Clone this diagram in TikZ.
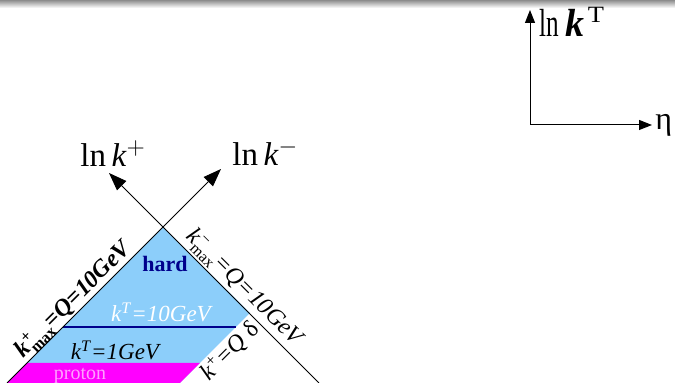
\documentclass[tikz,border=0pt]{standalone}
\usepackage{fontspec}
\setmainfont{Liberation Serif}
\usepackage{amsmath}
\usepackage{graphicx}
\usetikzlibrary{arrows.meta}
\definecolor{hardblue}{RGB}{140,206,250}
\definecolor{hardtext}{RGB}{0,0,140}
\definecolor{protonfill}{RGB}{255,0,255}
\definecolor{protontext}{RGB}{255,160,255}

\begin{document}
\begin{tikzpicture}[x=0.5pt,y=0.5pt,every node/.style={inner sep=0pt},
    bigaxis/.style={line width=0.5pt,-{Triangle[length=9pt,width=6.5pt]}},
    smallaxis/.style={line width=0.5pt,-{Triangle[length=6.5pt,width=5pt]}},
    axislabel/.style={anchor=base west,font=\fontsize{16.5}{19}\selectfont},
    linelabel/.style={anchor=base,font=\fontsize{12}{14}\selectfont\itshape},
    boldlinelabel/.style={anchor=base,font=\fontsize{12}{14}\selectfont\bfseries\itshape},
    regionlabel/.style={anchor=base,font=\fontsize{11.5}{14}\selectfont\itshape}]
			\useasboundingbox (0,0) rectangle (675,383);
			\shade[top color=black!45,bottom color=white] (0,375) rectangle (675,383); % top band
			\coordinate (apex) at (163,156); % crossing point
			\coordinate (leftfoot) at (7,0); % foot of ln k- axis
			\coordinate (rightfoot) at (319,0); % foot of ln k+ axis
			\coordinate (kminustip) at (221,214); % tip of ln k- axis
			\coordinate (kplustip) at (109,210); % tip of ln k+ axis
			\coordinate (qdtop) at (250,70); % top of k+=Q delta line
			\coordinate (qdfoot) at (180,0); % foot of k+=Q delta line
  			\fill[hardblue] (leftfoot) -- (apex) -- (qdtop) -- (qdfoot) -- cycle; % hard region
  			\fill[protonfill] (leftfoot) -- (27,20) -- (200,20) -- (qdfoot) -- cycle; % proton band
  			\draw[hardtext,line width=0.75pt] (63,56) -- (236,56); % kT=1GeV line
  			\draw[bigaxis] (leftfoot) -- (kminustip); % ln k- axis
  			\draw[bigaxis] (rightfoot) -- (kplustip); % ln k+ axis
  			\node[axislabel] (lnkplus) at (80,216) {ln\,\textit{k}$^{+}$}; % Label for ln k+
  			\node[axislabel] (lnkminus) at (232,217) {ln\,\textit{k}$^{-}$}; % Label for ln k-
  			\node[anchor=base,font=\fontsize{11}{13}\selectfont\bfseries,text=hardtext] (hard) at (165,111) {hard};
  			\node[regionlabel,text=white] (kthard) at (161,61) {k$^{\text{T}}$=10GeV};
  			\node[regionlabel] (ktsoft) at (115,23) {k$^{\text{T}}$=1GeV};
  			\node[anchor=base,font=\fontsize{10}{12}\selectfont,text=protontext] (proton) at (80,3) {proton};
  			\node[boldlinelabel,rotate=45] (kplusmax) at (78,79) {k$^{\text{\upshape +}}_{\text{\upshape max}}$\kern-1pt=Q=10GeV};
  			\node[linelabel,rotate=-45] (kminusmax) at (240,91) {k$^{\text{\upshape −}}_{\text{\upshape max}}$\kern-1pt=Q=10GeV};
  			\node[linelabel,rotate=45] (kplusq) at (235,27) {k$^{\text{\upshape +}}$=Q {\upshape δ}};
  			% small axes top right
  			\coordinate (origin) at (530,258);
  			\coordinate (kttip) at (530,373);
  			\coordinate (etatip) at (652,258);
  			\draw[smallaxis] (origin) -- (kttip); % ln kT axis
  			\draw[smallaxis] (origin) -- (etatip); % eta axis
  			\node[anchor=base west,font=\fontsize{14}{16}\selectfont] (lnkt) at (539,346) {\scalebox{0.9}[1.4]{ln \scalebox{1.5}[1]{\textbf{\textit{k}}}\kern2pt$^{\text{\scalebox{1.5}[0.85]{T}}}$}};
  			\node[anchor=base west,font=\fontsize{16}{19}\selectfont] (eta) at (655,253) {η};
		\end{tikzpicture}
\end{document}
